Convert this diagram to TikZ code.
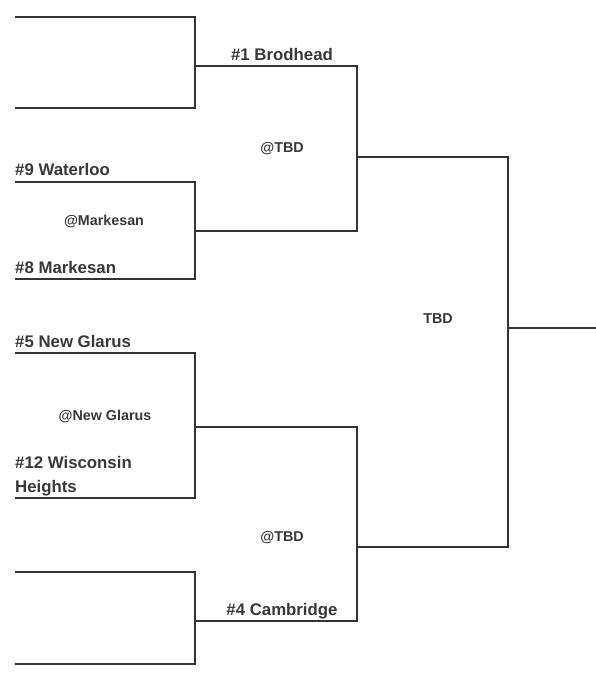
\documentclass[tikz,border=0pt]{standalone}
\usepackage{fontspec}
\setmainfont{Liberation Sans}
\definecolor{linegray}{HTML}{333333}
\definecolor{textgray}{HTML}{383838}
\begin{document}
\begin{tikzpicture}[x=1pt,y=-1pt,
  bline/.style={draw=linegray, line width=1.2pt},
  team/.style={font=\fontsize{16.8}{24}\selectfont\bfseries, text=textgray, inner sep=0pt},
  site/.style={font=\fontsize{14.3}{16}\selectfont\bfseries, text=textgray, inner sep=0pt}]
\useasboundingbox (0,0) rectangle (596,680);
% endpoints
\coordinate (A1) at (15,17);
\coordinate (A2) at (15,108);
\coordinate (A3) at (15,182);
\coordinate (A4) at (15,279);
\coordinate (A5) at (15,353);
\coordinate (A6) at (15,498);
\coordinate (A7) at (15,572);
\coordinate (A8) at (15,664);
\coordinate (B1) at (195,66);
\coordinate (B2) at (195,231);
\coordinate (B3) at (195,427);
\coordinate (B4) at (195,621);
\coordinate (C1) at (357,157);
\coordinate (C2) at (357,547);
\coordinate (D) at (508,328);
\coordinate (E) at (596,328);
% brackets
\draw[bline] (A1) -| (B1);
\draw[bline] (A2) -| (B1);
\draw[bline] (A3) -| (B2);
\draw[bline] (A4) -| (B2);
\draw[bline] (A5) -| (B3);
\draw[bline] (A6) -| (B3);
\draw[bline] (A7) -| (B4);
\draw[bline] (A8) -| (B4);
\draw[bline] (B1) -| (C1);
\draw[bline] (B2) -| (C1);
\draw[bline] (B3) -| (C2);
\draw[bline] (B4) -| (C2);
\draw[bline] (C1) -| (D);
\draw[bline] (C2) -| (D);
\draw[bline] (D) -- (E);
% team labels
\node[team, anchor=base] (t1) at (282,60) {\#1 Brodhead};
\node[team, anchor=base west] (t9) at (15,175) {\#9 Waterloo};
\node[team, anchor=base west] (t8) at (15,273) {\#8 Markesan};
\node[team, anchor=base west] (t5) at (15,347) {\#5 New Glarus};
\node[team, anchor=base west] (t12a) at (15,468) {\#12 Wisconsin};
\node[team, anchor=base west] (t12b) at (15,492) {Heights};
\node[team, anchor=base] (t4) at (282,615) {\#4 Cambridge};
% sites
\node[site, anchor=base] (s1) at (282,152) {@TBD};
\node[site, anchor=base] (s2) at (104,225) {@Markesan};
\node[site, anchor=base] (s3) at (105,420) {@New Glarus};
\node[site, anchor=base] (s4) at (282,541) {@TBD};
\node[site, anchor=base] (s5) at (438,323) {TBD};
\end{tikzpicture}
\end{document}
